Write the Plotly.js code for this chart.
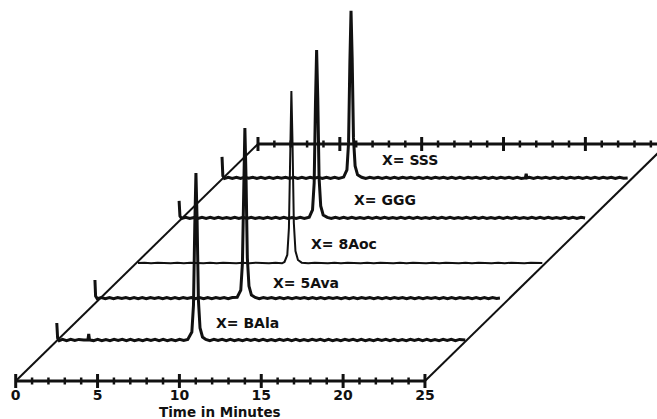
<!DOCTYPE html>
<html><head><meta charset="utf-8">
<script src="https://cdn.plot.ly/plotly-3.0.1.min.js"></script>
<style>html,body{margin:0;padding:0;background:#fff}#chart{width:657px;height:419px}</style>
</head><body><div id="chart"></div>
<script>
// ---- data (time in minutes, detector signal above own baseline) ----
const sampleNames = ['BAla', '5Ava', '8Aoc', 'GGG', 'SSS'];

const chromBAla = [[-0.05,17],[0,2],[0.1,-0.6],[0.3,0.6],[0.55,-0.6],[0.8,0.6],[1.05,-0.4],[1.3,0.6],[1.6,0],[1.85,0],[1.9,6],[1.95,0],[2.2,-0.6],[2.45,0.6],[2.7,-0.6],[2.95,0.5],[3.2,-0.6],[3.45,0.6],[3.7,-0.4],[3.95,0.6],[4.2,-0.6],[4.45,0.6],[4.7,-0.6],[4.95,0.5],[5.2,-0.6],[5.45,0.6],[5.7,-0.4],[5.95,0.6],[6.2,-0.6],[6.45,0.6],[6.7,-0.6],[6.95,0.5],[7.2,-0.6],[7.45,0.6],[7.7,-0.4],[7.95,0.6],[8.2,8],[8.3,35],[8.38,115],[8.45,167],[8.52,120],[8.6,40],[8.7,12],[8.85,3],[9.05,0.6],[9.3,-0.6],[9.55,0.6],[9.8,-0.4],[10.05,0.6],[10.3,-0.6],[10.55,0.6],[10.8,-0.6],[11.05,0.5],[11.3,-0.6],[11.55,0.6],[11.8,-0.4],[12.05,0.6],[12.3,-0.6],[12.55,0.6],[12.8,-0.6],[13.05,0.5],[13.3,-0.6],[13.55,0.6],[13.8,-0.4],[14.05,0.6],[14.3,-0.6],[14.55,0.6],[14.8,-0.6],[15.05,0.5],[15.3,-0.6],[15.55,0.6],[15.8,-0.4],[16.05,0.6],[16.3,-0.6],[16.55,0.6],[16.8,-0.6],[17.05,0.5],[17.3,-0.6],[17.55,0.6],[17.8,-0.4],[18.05,0.6],[18.3,-0.6],[18.55,0.6],[18.8,-0.6],[19.05,0.5],[19.3,-0.6],[19.55,0.6],[19.8,-0.4],[20.05,0.6],[20.3,-0.6],[20.55,0.6],[20.8,-0.6],[21.05,0.5],[21.3,-0.6],[21.55,0.6],[21.8,-0.4],[22.05,0.6],[22.3,-0.6],[22.55,0.6],[22.8,-0.6],[23.05,0.5],[23.3,-0.6],[23.55,0.6],[23.8,-0.4],[24.05,0.6],[24.3,-0.6],[24.55,0.6],[24.9,0]];

const chrom5Ava = [[-0.34,18],[-0.3,2],[-0.2,-0.6],[0.05,0.6],[0.3,-0.6],[0.55,0.5],[0.8,-0.6],[1.05,0.6],[1.3,-0.4],[1.55,0.6],[1.8,-0.6],[2.05,0.6],[2.3,-0.6],[2.55,0.5],[2.8,-0.6],[3.05,0.6],[3.3,-0.4],[3.55,0.6],[3.8,-0.6],[4.05,0.6],[4.3,-0.6],[4.55,0.5],[4.8,-0.6],[5.05,0.6],[5.3,-0.4],[5.55,0.6],[5.8,-0.6],[6.05,0.6],[6.3,-0.6],[6.55,0.5],[6.8,-0.6],[7.05,0.6],[7.3,-0.4],[7.55,0.6],[7.8,-0.6],[8.05,0.6],[8.35,0.8],[8.57,8],[8.67,35],[8.75,115],[8.82,170],[8.89,120],[8.97,40],[9.07,12],[9.22,3],[9.45,0.6],[9.7,-0.6],[9.95,0.6],[10.2,-0.4],[10.45,0.6],[10.7,-0.6],[10.95,0.6],[11.2,-0.6],[11.45,0.5],[11.7,-0.6],[11.95,0.6],[12.2,-0.4],[12.45,0.6],[12.7,-0.6],[12.95,0.6],[13.2,-0.6],[13.45,0.5],[13.7,-0.6],[13.95,0.6],[14.2,-0.4],[14.45,0.6],[14.7,-0.6],[14.95,0.6],[15.2,-0.6],[15.45,0.5],[15.7,-0.6],[15.95,0.6],[16.2,-0.4],[16.45,0.6],[16.7,-0.6],[16.95,0.6],[17.2,-0.6],[17.45,0.5],[17.7,-0.6],[17.95,0.6],[18.2,-0.4],[18.45,0.6],[18.7,-0.6],[18.95,0.6],[19.2,-0.6],[19.45,0.5],[19.7,-0.6],[19.95,0.6],[20.2,-0.4],[20.45,0.6],[20.7,-0.6],[20.95,0.6],[21.2,-0.6],[21.45,0.5],[21.7,-0.6],[21.95,0.6],[22.2,-0.4],[22.45,0.6],[22.7,-0.6],[22.95,0.6],[23.2,-0.6],[23.45,0.5],[23.7,-0.6],[23.95,0.6],[24.2,-0.4],[24.4,0]];

const chrom8Aoc = [[0.1,0],[0.5,0.3],[0.9,-0.3],[1.3,0.3],[1.7,0],[2.1,-0.3],[2.5,0.3],[2.9,-0.3],[3.3,0.3],[3.7,0],[4.1,-0.3],[4.5,0.3],[4.9,-0.3],[5.3,0.3],[5.7,0],[6.1,-0.3],[6.5,0.3],[6.9,-0.3],[7.3,0.3],[7.7,0],[8.1,-0.3],[8.5,0.3],[8.9,-0.3],[9.05,1],[9.22,8],[9.32,35],[9.4,115],[9.47,172],[9.54,120],[9.62,40],[9.72,12],[9.87,3],[10.1,0.3],[10.5,-0.3],[10.9,0.3],[11.3,0],[11.7,-0.3],[12.1,0.3],[12.5,-0.3],[12.9,0.3],[13.3,0],[13.7,-0.3],[14.1,0.3],[14.5,-0.3],[14.9,0.3],[15.3,0],[15.7,-0.3],[16.1,0.3],[16.5,-0.3],[16.9,0.3],[17.3,0],[17.7,-0.3],[18.1,0.3],[18.5,-0.3],[18.9,0.3],[19.3,0],[19.7,-0.3],[20.1,0.3],[20.5,-0.3],[20.9,0.3],[21.3,0],[21.7,-0.3],[22.1,0.3],[22.5,-0.3],[22.9,0.3],[23.3,0],[23.7,-0.3],[24.1,0.3],[24.5,-0.3],[24.8,0]];

const chromGGG = [[-0.2,17],[-0.15,2],[-0.05,-0.6],[0.2,0.6],[0.45,-0.6],[0.7,0.5],[0.95,-0.6],[1.2,0.6],[1.45,-0.4],[1.7,0.6],[1.95,-0.6],[2.2,0.6],[2.45,-0.6],[2.7,0.5],[2.95,-0.6],[3.2,0.6],[3.45,-0.4],[3.7,0.6],[3.95,-0.6],[4.2,0.6],[4.45,-0.6],[4.7,0.5],[4.95,-0.6],[5.2,0.6],[5.45,-0.4],[5.7,0.6],[5.95,-0.6],[6.2,0.6],[6.45,-0.6],[6.7,0.5],[6.95,-0.6],[7.2,0.6],[7.45,-0.4],[7.75,0.8],[7.95,8],[8.05,35],[8.13,115],[8.2,168],[8.27,120],[8.35,40],[8.45,12],[8.6,3],[8.85,0.6],[9.1,-0.6],[9.35,0.6],[9.6,-0.4],[9.85,0.6],[10.1,-0.6],[10.35,0.6],[10.6,-0.6],[10.85,0.5],[11.1,-0.6],[11.35,0.6],[11.6,-0.4],[11.85,0.6],[12.1,-0.6],[12.35,0.6],[12.6,-0.6],[12.85,0.5],[13.1,-0.6],[13.35,0.6],[13.6,-0.4],[13.85,0.6],[14.1,-0.6],[14.35,0.6],[14.6,-0.6],[14.85,0.5],[15.1,-0.6],[15.35,0.6],[15.6,-0.4],[15.85,0.6],[16.1,-0.6],[16.35,0.6],[16.6,-0.6],[16.85,0.5],[17.1,-0.6],[17.35,0.6],[17.6,-0.4],[17.85,0.6],[18.1,-0.6],[18.35,0.6],[18.6,-0.6],[18.85,0.5],[19.1,-0.6],[19.35,0.6],[19.6,-0.4],[19.85,0.6],[20.1,-0.6],[20.35,0.6],[20.6,-0.6],[20.85,0.5],[21.1,-0.6],[21.35,0.6],[21.6,-0.4],[21.85,0.6],[22.1,-0.6],[22.35,0.6],[22.6,-0.6],[22.85,0.5],[23.1,-0.6],[23.35,0.6],[23.6,-0.4],[23.85,0.6],[24.1,-0.6],[24.35,0.6],[24.6,0]];

const chromSSS = [[-0.08,21],[-0.03,2],[0.07,-0.6],[0.3,0.6],[0.55,-0.6],[0.8,0.5],[1.05,-0.6],[1.3,0.6],[1.55,-0.4],[1.8,0.6],[2.05,-0.6],[2.3,0.6],[2.55,-0.6],[2.8,0.5],[3.05,-0.6],[3.3,0.6],[3.55,-0.4],[3.8,0.6],[4.05,-0.6],[4.3,0.6],[4.55,-0.6],[4.8,0.5],[5.05,-0.6],[5.3,0.6],[5.55,-0.4],[5.8,0.6],[6.05,-0.6],[6.3,0.6],[6.55,-0.6],[6.8,0.5],[7.05,-0.6],[7.35,0.8],[7.55,8],[7.65,35],[7.73,115],[7.8,167],[7.87,120],[7.95,40],[8.05,12],[8.2,3],[8.45,0.6],[8.7,-0.6],[8.95,0.6],[9.2,-0.4],[9.45,0.6],[9.7,-0.6],[9.95,0.6],[10.2,-0.6],[10.45,0.5],[10.7,-0.6],[10.95,0.6],[11.2,-0.4],[11.45,0.6],[11.7,-0.6],[11.95,0.6],[12.2,-0.6],[12.45,0.5],[12.7,-0.6],[12.95,0.6],[13.2,-0.4],[13.45,0.6],[13.7,-0.6],[13.95,0.6],[14.2,-0.6],[14.45,0.5],[14.7,-0.6],[14.95,0.6],[15.2,-0.4],[15.45,0.6],[15.7,-0.6],[15.95,0.6],[16.2,-0.6],[16.45,0.5],[16.7,-0.6],[16.95,0.6],[17.2,-0.4],[17.45,0.6],[17.7,-0.6],[17.95,0.6],[18.2,-0.6],[18.45,0],[18.5,4],[18.55,0],[18.7,0.6],[18.95,-0.6],[19.2,0.6],[19.45,-0.4],[19.7,0.6],[19.95,-0.6],[20.2,0.6],[20.45,-0.6],[20.7,0.5],[20.95,-0.6],[21.2,0.6],[21.45,-0.4],[21.7,0.6],[21.95,-0.6],[22.2,0.6],[22.45,-0.6],[22.7,0.5],[22.95,-0.6],[23.2,0.6],[23.45,-0.4],[23.7,0.6],[23.95,-0.6],[24.2,0.6],[24.45,-0.4],[24.7,0]];

const axisTickValues = [0, 5, 10, 15, 20, 25];
const axisTickLabels = ['0', '5', '10', '15', '20', '25'];
const minorTickValues = [1,2,3,4,6,7,8,9,11,12,13,14,16,17,18,19,21,22,23,24];
const axisTitle = 'Time in Minutes';

// ---- layout of the oblique stack ----
const DEPTH_DX = 14.8;   // minutes of horizontal shift for full depth
const DEPTH_DY = 237;    // vertical shift for full depth
const sampleDepths = [0.173, 0.350, 0.498, 0.688, 0.857];
const chroms = [chromBAla, chrom5Ava, chrom8Aoc, chromGGG, chromSSS];
const labelPos = [[14.19,58],[17.73,98],[20.06,137],[22.56,181],[24.09,221]];
const INK = '#111';

const traces = [];
chroms.forEach((c, i) => {
  const d = sampleDepths[i];
  traces.push({
    type: 'scatter', mode: 'lines', name: 'X= ' + sampleNames[i],
    x: c.map(p => p[0] + d * DEPTH_DX),
    y: c.map(p => p[1] + d * DEPTH_DY),
    line: {color: INK, width: i === 2 ? 2 : 3},
    hoverinfo: 'skip'
  });
});

// front and back time axes + diagonals
const axisEnd = axisTickValues[axisTickValues.length - 1];
traces.push({type:'scatter', mode:'lines', x:[0, axisEnd], y:[0, 0], line:{color:INK, width:3.2}, hoverinfo:'skip'});
traces.push({type:'scatter', mode:'lines', x:[DEPTH_DX, axisEnd + DEPTH_DX], y:[DEPTH_DY, DEPTH_DY], line:{color:INK, width:3.2}, hoverinfo:'skip'});
traces.push({type:'scatter', mode:'lines', x:[0, DEPTH_DX], y:[0, DEPTH_DY], line:{color:INK, width:2}, hoverinfo:'skip'});
traces.push({type:'scatter', mode:'lines', x:[axisEnd, axisEnd + DEPTH_DX], y:[0, DEPTH_DY], line:{color:INK, width:2}, hoverinfo:'skip'});

// tick marks
[0, 1].forEach(depth => {
  traces.push({type:'scatter', mode:'markers',
    x: axisTickValues.map(v => v + depth * DEPTH_DX), y: axisTickValues.map(() => depth * DEPTH_DY),
    marker:{symbol:'line-ns', size:10, line:{color:INK, width:3}}, hoverinfo:'skip'});
  traces.push({type:'scatter', mode:'markers',
    x: minorTickValues.map(v => v + depth * DEPTH_DX), y: minorTickValues.map(() => depth * DEPTH_DY),
    marker:{symbol:'line-ns', size:5, line:{color:INK, width:2.5}}, hoverinfo:'skip'});
});

// tick labels
traces.push({type:'scatter', mode:'text', x: axisTickValues, y: axisTickValues.map(() => -15),
  text: axisTickLabels.map(t => '<b>' + t + '</b>'), textposition:'middle center',
  textfont:{family:'DejaVu Sans', size:14, color:INK}, hoverinfo:'skip'});

const annotations = sampleNames.map((n, i) => ({
  x: labelPos[i][0], y: labelPos[i][1], xref:'x', yref:'y', showarrow:false,
  text: '<b>X= ' + n + '</b>', xanchor:'center', yanchor:'middle',
  font:{family:'DejaVu Sans', size:14, color:INK}
}));
annotations.push({x: axisEnd / 2, y: -31, xref:'x', yref:'y', showarrow:false,
  text:'<b>' + axisTitle + '</b>', xanchor:'center', yanchor:'middle',
  font:{family:'DejaVu Sans', size:13.5, color:INK}});

const layout = {
  width: 657, height: 419,
  margin: {l:0, r:0, t:0, b:0},
  paper_bgcolor:'#fff', plot_bgcolor:'#fff',
  showlegend:false,
  xaxis:{range:[-0.959, 39.175], visible:false, fixedrange:true},
  yaxis:{range:[-38, 381], visible:false, fixedrange:true},
  annotations: annotations
};
Plotly.newPlot('chart', traces, layout, {displayModeBar:false, staticPlot:true});
</script></body></html>
